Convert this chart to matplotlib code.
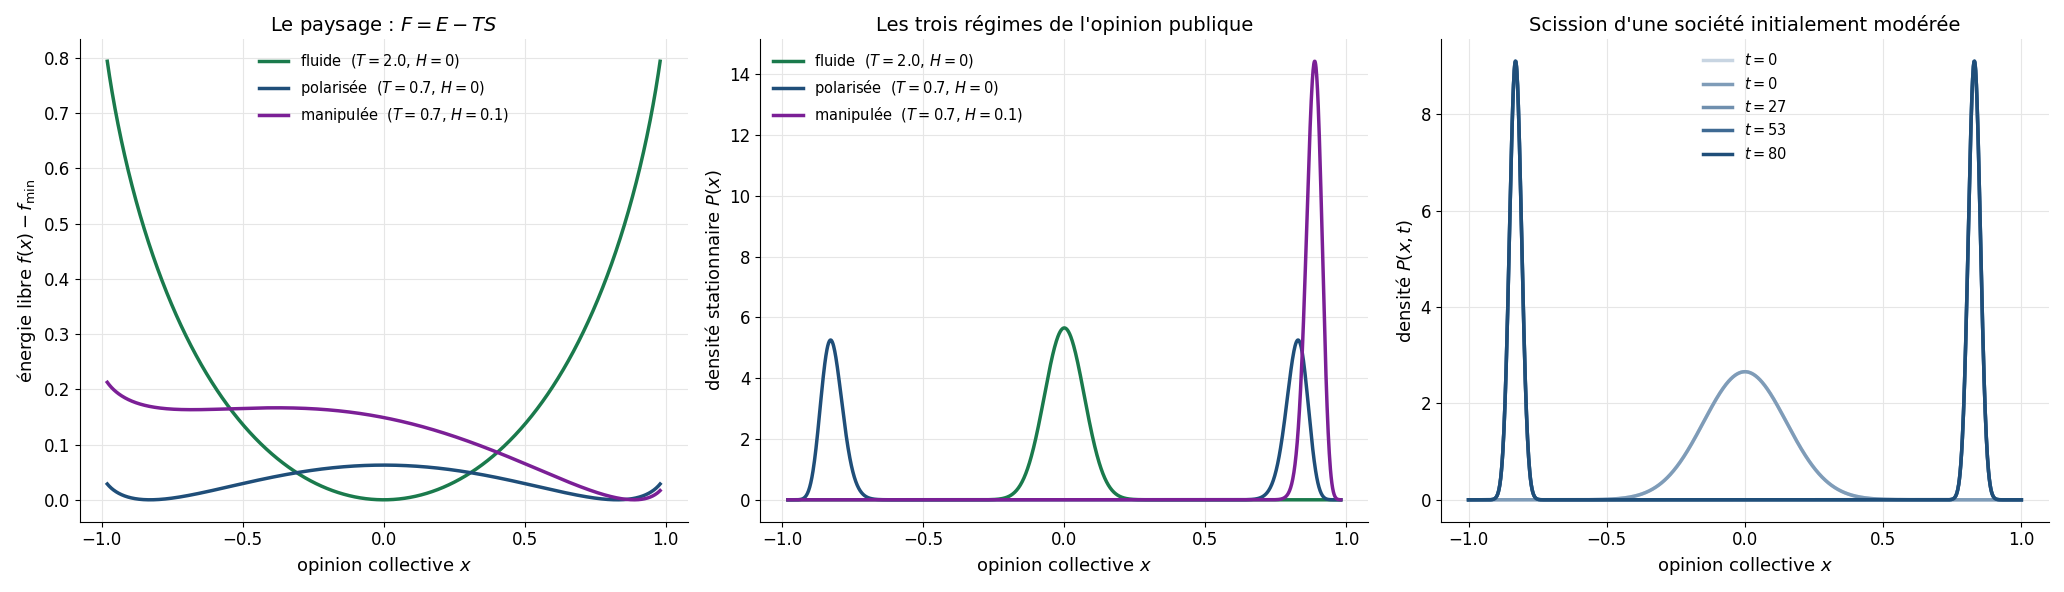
import numpy as np
import matplotlib
matplotlib.use("Agg")
import matplotlib.pyplot as plt

# regime parameters (temperature T, field H)
labels = ["fluide", "polarisée", "manipulée"]
T_vals = [2.0, 0.7, 0.7]
H_vals = [0.0, 0.0, 0.1]
colors = ["#1a7a4c", "#1f4e79", "#7b1f96"]
N_size = 400

# panel 3: times and gaussian-mixture descriptions
times = ["0", "0", "27", "53", "80"]
t_colors = ["#c8d5e2", "#7f9cb8", "#6f8fae", "#3f6a93", "#1f4e79"]
init_center, init_sigma = 0.0, 0.15
final_centers = [-0.83, 0.83]
final_sigma = 0.0219

x = np.linspace(-0.98, 0.98, 1500)

def free_energy(x, T, H):
    p, q = (1 + x) / 2, (1 - x) / 2
    S = -(p * np.log(p) + q * np.log(q))
    return -x**2 / 2 - H * x - T * S

plt.rcParams["font.family"] = ["DejaVu Sans"]
fig, axes = plt.subplots(1, 3, figsize=(20.64, 5.92), dpi=100)

ax = axes[0]
for lab, T, H, c in zip(labels, T_vals, H_vals, colors):
    f = free_energy(x, T, H)
    ax.plot(x, f - f.min(), color=c, lw=2.5, label=f"{lab}  $(T={T}$, $H={H:g})$")
ax.set_title("Le paysage : $F = E - TS$", fontsize=14)
ax.set_ylabel(r"énergie libre $f(x) - f_{\min}$", fontsize=13)
ax.legend(loc="upper center", frameon=False, fontsize=10.5)

ax = axes[1]
for lab, T, H, c in zip(labels, T_vals, H_vals, colors):
    f = free_energy(x, T, H)
    w = np.exp(-N_size * (f - f.min()) / T)
    P = w / np.trapezoid(w, x)
    ax.plot(x, P, color=c, lw=2.5, label=f"{lab}  $(T={T}$, $H={H:g})$")
ax.set_title("Les trois régimes de l'opinion publique", fontsize=14)
ax.set_ylabel(r"densité stationnaire $P(x)$", fontsize=13)
ax.legend(loc="upper left", frameon=False, fontsize=10.5)

ax = axes[2]
x3 = np.linspace(-1, 1, 1500)
def gauss(x, m, s):
    return np.exp(-(x - m)**2 / (2 * s * s)) / (s * np.sqrt(2 * np.pi))
for i, (t, c) in enumerate(zip(times, t_colors)):
    if i < 2:
        P = gauss(x3, init_center, init_sigma)
    else:
        P = sum(0.5 * gauss(x3, m, final_sigma) for m in final_centers)
    ax.plot(x3, P, color=c, lw=2.5, label=f"$t={t}$")
ax.set_title("Scission d'une société initialement modérée", fontsize=14)
ax.set_ylabel(r"densité $P(x,t)$", fontsize=13)
ax.legend(loc="upper center", frameon=False, fontsize=10.5)

for ax in axes:
    ax.set_xlabel("opinion collective $x$", fontsize=13)
    ax.grid(True, color="#e6e6e6")
    ax.spines["top"].set_visible(False)
    ax.spines["right"].set_visible(False)
    ax.tick_params(labelsize=12)
    ax.set_xticks([-1.0, -0.5, 0.0, 0.5, 1.0])

fig.tight_layout()
fig.savefig("out.png", dpi=100)
